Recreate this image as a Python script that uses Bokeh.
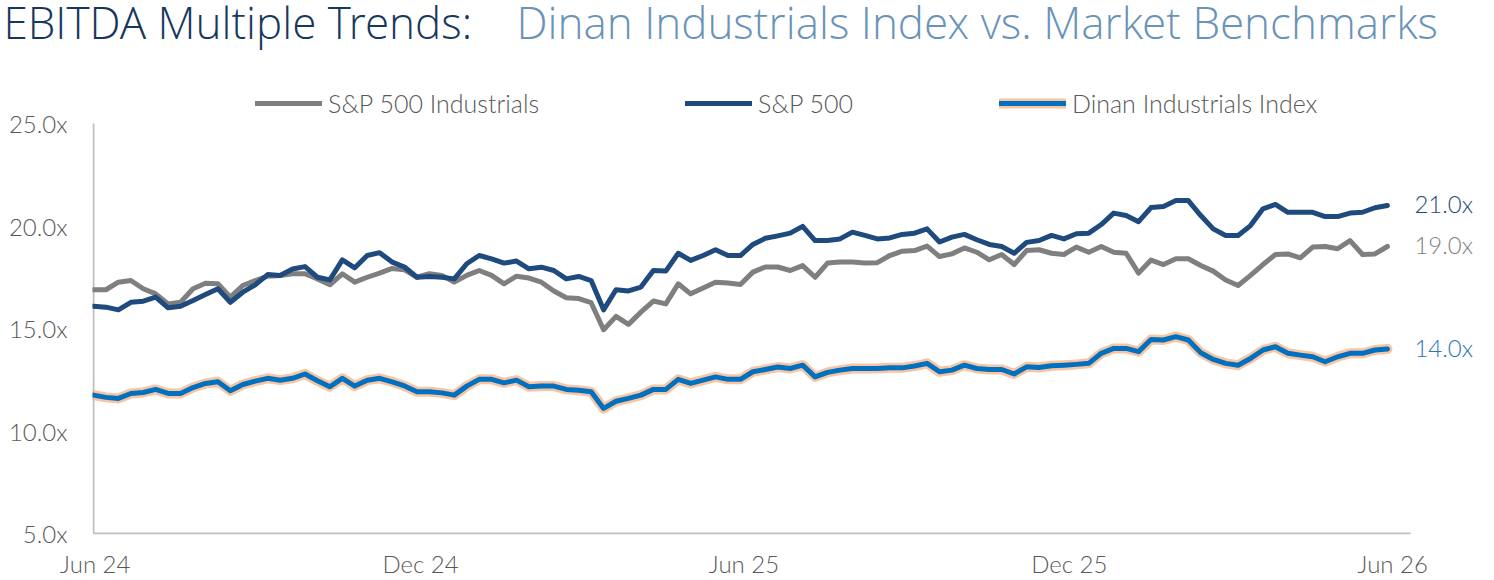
import pandas as pd
from bokeh.plotting import figure
from bokeh.layouts import column
from bokeh.models import (Range1d, FixedTicker, DatetimeTickFormatter, PrintfTickFormatter,
                          Legend, LegendItem, Label)
from bokeh.embed import file_html
from bokeh.resources import INLINE

# ---------------- data ----------------
first_date = "2024-05-31"
n_weeks = 105
dates = pd.date_range(first_date, periods=n_weeks, freq="7D")

sp500_industrials = [
    16.89, 16.89, 17.26, 17.34, 16.94, 16.69, 16.20, 16.28, 16.94, 17.21,
    17.18, 16.53, 17.10, 17.34, 17.55, 17.59, 17.67, 17.67, 17.42, 17.13,
    17.67, 17.26, 17.50, 17.70, 17.93, 17.86, 17.50, 17.67, 17.59, 17.26,
    17.59, 17.83, 17.59, 17.18, 17.55, 17.46, 17.26, 16.83, 16.50, 16.46,
    16.26, 14.94, 15.59, 15.20, 15.80, 16.34, 16.20, 17.18, 16.69, 16.98,
    17.26, 17.22, 17.15, 17.75, 18.00, 18.00, 17.83, 18.07, 17.50, 18.19,
    18.24, 18.24, 18.19, 18.21, 18.56, 18.77, 18.80, 19.02, 18.51, 18.64,
    18.93, 18.72, 18.35, 18.61, 18.12, 18.80, 18.84, 18.67, 18.61, 18.97,
    18.72, 19.00, 18.72, 18.67, 17.70, 18.34, 18.12, 18.40, 18.40, 18.07,
    17.80, 17.37, 17.10, 17.59, 18.12, 18.61, 18.64, 18.45, 18.97, 19.00,
    18.89, 19.29, 18.61, 18.64, 19.00,
]
sp500 = [
    16.09, 16.04, 15.91, 16.28, 16.33, 16.53, 16.01, 16.09, 16.37, 16.66,
    16.94, 16.28, 16.77, 17.13, 17.63, 17.59, 17.90, 18.02, 17.50, 17.37,
    18.35, 17.96, 18.56, 18.70, 18.24, 18.00, 17.50, 17.54, 17.50, 17.42,
    18.16, 18.56, 18.40, 18.19, 18.29, 17.91, 17.99, 17.83, 17.42, 17.54,
    17.34, 15.91, 16.89, 16.83, 17.02, 17.83, 17.80, 18.67, 18.32, 18.56,
    18.84, 18.56, 18.56, 19.10, 19.40, 19.52, 19.65, 19.98, 19.29, 19.29,
    19.37, 19.70, 19.54, 19.37, 19.42, 19.59, 19.65, 19.86, 19.22, 19.46,
    19.59, 19.33, 19.10, 19.00, 18.67, 19.20, 19.29, 19.54, 19.37, 19.62,
    19.65, 20.07, 20.63, 20.51, 20.21, 20.90, 20.95, 21.24, 21.24, 20.51,
    19.86, 19.54, 19.54, 20.02, 20.84, 21.05, 20.67, 20.67, 20.67, 20.46,
    20.46, 20.63, 20.67, 20.89, 21.00,
]
dinan_index = [
    11.75, 11.64, 11.59, 11.83, 11.88, 12.03, 11.83, 11.83, 12.12, 12.32,
    12.40, 11.96, 12.27, 12.43, 12.57, 12.48, 12.57, 12.78, 12.45, 12.16,
    12.57, 12.19, 12.48, 12.57, 12.40, 12.20, 11.91, 11.91, 11.86, 11.75,
    12.19, 12.52, 12.52, 12.35, 12.48, 12.16, 12.19, 12.19, 12.03, 11.99,
    11.91, 11.10, 11.45, 11.59, 11.75, 12.03, 12.03, 12.52, 12.32, 12.48,
    12.64, 12.52, 12.52, 12.89, 13.00, 13.12, 13.05, 13.21, 12.64, 12.86,
    12.97, 13.05, 13.05, 13.05, 13.08, 13.08, 13.17, 13.30, 12.89, 12.97,
    13.21, 13.05, 13.00, 13.00, 12.78, 13.13, 13.10, 13.18, 13.21, 13.25,
    13.30, 13.79, 14.03, 14.03, 13.87, 14.46, 14.44, 14.60, 14.44, 13.82,
    13.49, 13.30, 13.21, 13.54, 13.95, 14.11, 13.79, 13.70, 13.62, 13.38,
    13.62, 13.79, 13.79, 13.95, 14.00,
]
series_names = ["S&P 500 Industrials", "S&P 500", "Dinan Industrials Index"]
tick_dates = ["2024-06-01", "2024-12-01", "2025-06-01", "2025-12-01", "2026-06-01"]
y_ticks = [5, 10, 15, 20, 25]
y_min, y_max = 5, 25
x_end_date = "2026-06-11"
title_main = "EBITDA Multiple Trends:"
title_sub = "Dinan Industrials Index vs. Market Benchmarks"

# ---------------- styling / geometry ----------------
GRAY = "#7F7F7F"
NAVY = "#1F4A7D"
BLUE = "#0070C0"
GLOW = "#F7B081"
TXT = "#595959"
AXIS = "#BFBFBF"
FONT = "Lato Light"
TFONT = "Open Sans Light"

W = 1494
H_TITLE = 56
H_MAIN = 580 - H_TITLE
PLOT_L, PLOT_R = 93, 1410          # page x of first date / end of x axis
PLOT_T, PLOT_B = 123, 533          # page y of y_max / y_min


def ms(d):
    return pd.Timestamp(d).value / 1e6


x0, x1 = ms(dates[0]), ms(x_end_date)
kx = (PLOT_R - PLOT_L) / (x1 - x0)
ky = (PLOT_B - PLOT_T) / (y_max - y_min)
frame_left = PLOT_L - 1
frame_bottom = PLOT_B + 1

# ---------------- title strip ----------------
t = figure(width=W, height=H_TITLE, x_range=Range1d(0, W), y_range=Range1d(H_TITLE, 0),
           x_axis_location=None, y_axis_location=None, output_backend="svg",
           toolbar_location=None, min_border=0, frame_align=False)
t.outline_line_color = None
t.grid.grid_line_color = None
t.add_layout(Label(x=3, y=21, text=title_main, text_align="left", text_baseline="alphabetic",
                   text_font=TFONT, text_font_size="44px", text_color="#17375E"))
t.add_layout(Label(x=516, y=21, text=title_sub, text_align="left", text_baseline="alphabetic",
                   text_font=TFONT, text_font_size="44px", text_color="#6A93B8"))

# ---------------- main chart ----------------
p = figure(width=W, height=H_MAIN, x_axis_type="datetime",
           x_range=Range1d(x0 - 1 / kx, x0 + (W - PLOT_L) / kx),
           y_range=Range1d(y_min - 1 / ky, y_min + (PLOT_B - H_TITLE) / ky),
           output_backend="svg", toolbar_location=None, frame_align=False,
           min_border_left=frame_left, min_border_right=0, min_border_top=0,
           min_border_bottom=580 - frame_bottom)
p.outline_line_color = None
p.grid.grid_line_color = None
p.background_fill_color = "white"

# axis lines (drawn only over the data extent)
p.segment(x0=[x0, x0], y0=[y_min, y_min], x1=[x0, x1], y1=[y_max, y_min],
          line_color=AXIS, line_width=2)

LW = 5
r_gray = p.line(dates, sp500_industrials, line_color=GRAY, line_width=LW,
                line_join="round", line_cap="round")
r_navy = p.line(dates, sp500, line_color=NAVY, line_width=LW,
                line_join="round", line_cap="round")
r_glow = p.line(dates, dinan_index, line_color=GLOW, line_width=LW + 5, line_alpha=0.75,
                line_join="round", line_cap="round")
r_blue = p.line(dates, dinan_index, line_color=BLUE, line_width=LW,
                line_join="round", line_cap="round")

yax = p.yaxis[0]
yax.ticker = FixedTicker(ticks=y_ticks)
yax.formatter = PrintfTickFormatter(format="%.1fx")
xax = p.xaxis[0]
xax.ticker = FixedTicker(ticks=[ms(d) for d in tick_dates])
fmt = "%b %y"
xax.formatter = DatetimeTickFormatter(milliseconds=fmt, seconds=fmt, minsec=fmt, minutes=fmt,
                                      hourmin=fmt, hours=fmt, days=fmt, months=fmt, years=fmt)
for ax in (xax, yax):
    ax.axis_line_color = None
    ax.major_tick_line_color = None
    ax.minor_tick_line_color = None
    ax.major_tick_out = 0
    ax.major_tick_in = 0
    ax.minor_tick_out = 0
    ax.major_label_text_font = FONT
    ax.major_label_text_font_size = "24px"
    ax.major_label_text_color = TXT
yax.major_label_standoff = 25
xax.major_label_standoff = 14

legend = Legend(items=[LegendItem(label=series_names[0], renderers=[r_gray]),
                       LegendItem(label=series_names[1], renderers=[r_navy]),
                       LegendItem(label=series_names[2], renderers=[r_glow, r_blue])],
                orientation="horizontal", location=(PLOT_L - frame_left + 162, frame_bottom - 104 - 14),
                glyph_width=67, glyph_height=28, label_standoff=6, spacing=146,
                padding=0, margin=0, border_line_color=None, background_fill_alpha=0,
                label_text_font=FONT, label_text_font_size="25px", label_text_color=TXT)
p.add_layout(legend)

for vals, col in ((sp500, NAVY), (sp500_industrials, GRAY), (dinan_index, "#2E75B6")):
    p.add_layout(Label(x=ms(dates[-1]), y=vals[-1], x_offset=27, y_offset=2,
                       text=f"{vals[-1]:.1f}x", text_align="left", text_baseline="middle",
                       text_font=FONT, text_font_size="24px", text_color=col))

layout = column(t, p, spacing=0)
open("out.html", "w").write(file_html(layout, INLINE))
